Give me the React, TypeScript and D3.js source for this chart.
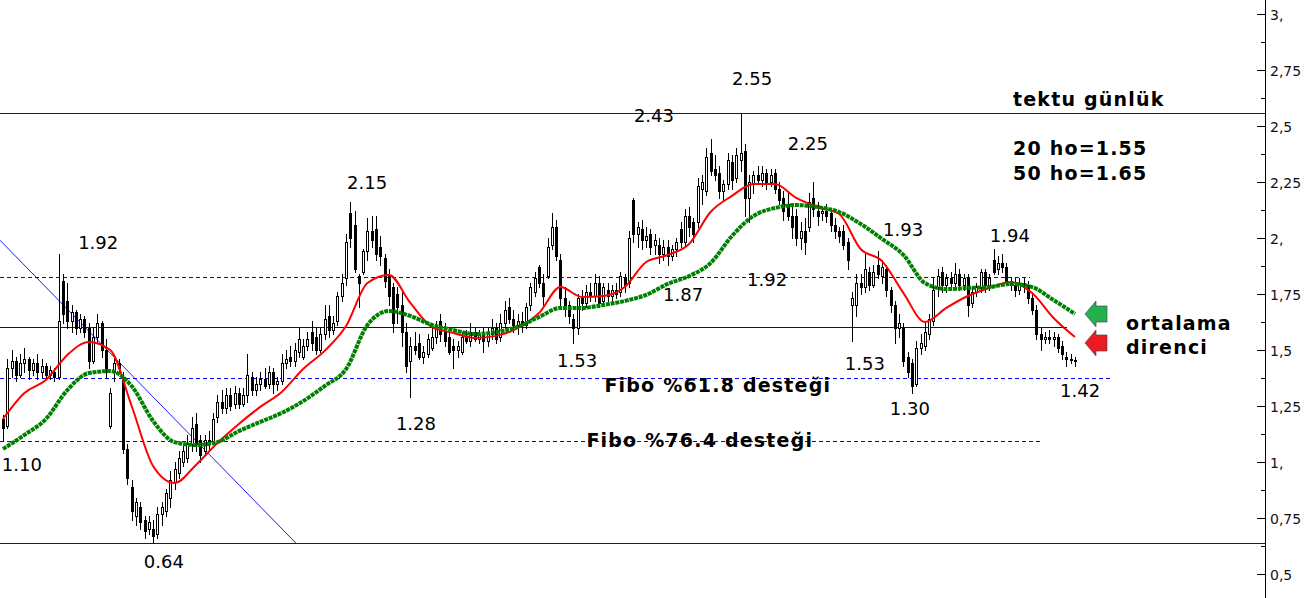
import React from 'react';
import * as d3 from 'd3';

const W = 1314;
const H = 598;

// OHLC per trading day (251 bars)
const opens = [
  1.19,1.16,1.42,1.45,1.39,1.44,1.46,1.41,1.44,1.40,
  1.43,1.39,1.40,1.38,1.81,1.72,1.63,1.67,1.60,1.64,
  1.60,1.45,1.56,1.62,1.50,1.16,1.40,1.44,1.38,1.06,
  0.89,0.76,0.80,0.74,0.70,0.70,0.68,0.77,0.78,0.84,
  0.91,0.95,1.00,1.02,1.08,1.17,1.10,1.05,1.10,1.09,
  1.20,1.27,1.24,1.30,1.26,1.31,1.26,1.30,1.38,1.32,
  1.35,1.37,1.35,1.40,1.35,1.36,1.44,1.47,1.45,1.49,
  1.47,1.52,1.58,1.56,1.50,1.57,1.65,1.59,1.63,1.74,
  1.82,2.11,2.06,1.83,1.85,1.94,2.03,2.04,1.96,1.91,
  1.83,1.78,1.75,1.70,1.58,1.45,1.52,1.53,1.47,1.48,
  1.51,1.56,1.63,1.58,1.56,1.52,1.50,1.49,1.56,1.54,
  1.58,1.55,1.57,1.54,1.57,1.60,1.56,1.62,1.69,1.64,
  1.61,1.63,1.61,1.70,1.76,1.87,1.80,1.83,1.97,2.05,
  1.90,1.73,1.70,1.64,1.60,1.73,1.71,1.76,1.74,1.80,
  1.72,1.77,1.74,1.77,1.76,1.82,1.80,2.17,2.02,2.04,
  1.99,2.02,1.97,1.97,1.93,1.96,1.92,1.95,2.04,1.98,
  2.10,2.07,2.07,2.22,2.21,2.38,2.31,2.29,2.21,2.24,
  2.34,2.27,2.35,2.39,2.18,2.24,2.28,2.26,2.29,2.25,
  2.29,2.22,2.18,2.15,2.10,2.10,2.00,2.03,2.05,2.18,
  2.12,2.11,2.12,2.11,2.06,2.03,2.03,1.98,1.70,1.70,
  1.80,1.78,1.85,1.79,1.88,1.83,1.86,1.77,1.70,1.60,
  1.60,1.47,1.44,1.35,1.51,1.52,1.57,1.63,1.78,1.85,
  1.79,1.82,1.80,1.84,1.79,1.82,1.71,1.76,1.78,1.85,
  1.79,1.90,1.86,1.89,1.87,1.81,1.79,1.77,1.80,1.79,
  1.73,1.68,1.57,1.55,1.56,1.55,1.56,1.52,1.47,1.46,
  1.455,
];
const highs = [
  1.21,1.46,1.50,1.47,1.48,1.51,1.47,1.46,1.48,1.46,
  1.44,1.43,1.42,1.93,1.84,1.80,1.70,1.68,1.66,1.65,
  1.62,1.60,1.66,1.63,1.55,1.33,1.47,1.46,1.40,1.08,
  0.92,0.84,0.82,0.76,0.76,0.74,0.80,0.82,0.88,0.96,
  1.00,1.05,1.08,1.12,1.20,1.22,1.12,1.12,1.14,1.22,
  1.30,1.32,1.33,1.33,1.34,1.33,1.33,1.48,1.40,1.38,
  1.40,1.42,1.43,1.42,1.38,1.48,1.50,1.52,1.53,1.60,
  1.55,1.58,1.63,1.60,1.60,1.70,1.70,1.65,1.76,1.84,
  2.02,2.16,2.12,1.84,1.95,2.09,2.10,2.10,2.01,1.93,
  1.86,1.80,1.78,1.76,1.62,1.56,1.58,1.57,1.52,1.57,
  1.60,1.63,1.66,1.62,1.59,1.55,1.54,1.58,1.59,1.62,
  1.60,1.59,1.60,1.60,1.64,1.62,1.66,1.72,1.73,1.68,
  1.66,1.67,1.71,1.80,1.85,1.88,1.84,2.00,2.11,2.08,
  1.93,1.78,1.72,1.66,1.75,1.77,1.79,1.80,1.84,1.83,
  1.80,1.80,1.79,1.80,1.85,1.84,2.03,2.18,2.07,2.08,
  2.05,2.04,2.02,2.00,1.99,1.99,1.97,2.00,2.07,2.13,
  2.14,2.09,2.27,2.28,2.40,2.44,2.37,2.32,2.26,2.38,
  2.37,2.40,2.56,2.42,2.28,2.30,2.32,2.32,2.31,2.31,
  2.31,2.25,2.21,2.20,2.14,2.13,2.07,2.09,2.20,2.25,
  2.16,2.14,2.15,2.13,2.09,2.05,2.06,2.00,1.76,1.84,
  1.84,1.93,1.87,1.88,1.94,1.90,1.88,1.78,1.72,1.66,
  1.62,1.49,1.46,1.54,1.57,1.62,1.66,1.82,1.86,1.87,
  1.84,1.85,1.89,1.86,1.84,1.84,1.78,1.80,1.86,1.86,
  1.84,1.95,1.92,1.93,1.89,1.82,1.82,1.82,1.82,1.81,
  1.75,1.70,1.60,1.58,1.59,1.58,1.57,1.54,1.49,1.48,
  1.47,
];
const lows = [
  1.10,1.15,1.38,1.36,1.38,1.40,1.37,1.39,1.37,1.38,
  1.37,1.37,1.36,1.37,1.62,1.60,1.58,1.57,1.58,1.56,
  1.42,1.44,1.53,1.47,1.38,1.15,1.36,1.40,1.04,0.90,
  0.74,0.72,0.70,0.66,0.68,0.64,0.66,0.72,0.76,0.80,
  0.88,0.93,0.98,1.00,1.05,1.05,1.00,1.03,1.06,1.08,
  1.18,1.22,1.22,1.23,1.24,1.24,1.25,1.27,1.30,1.30,
  1.32,1.33,1.33,1.31,1.32,1.35,1.42,1.43,1.43,1.47,
  1.46,1.50,1.50,1.48,1.49,1.55,1.56,1.57,1.61,1.72,
  1.79,1.96,1.85,1.69,1.84,1.90,1.96,1.90,1.88,1.78,
  1.70,1.58,1.62,1.52,1.40,1.29,1.48,1.46,1.44,1.47,
  1.50,1.53,1.54,1.52,1.48,1.42,1.47,1.48,1.53,1.52,
  1.54,1.53,1.49,1.52,1.55,1.53,1.54,1.60,1.62,1.58,
  1.57,1.58,1.60,1.68,1.74,1.78,1.70,1.82,1.95,1.90,
  1.70,1.65,1.62,1.53,1.57,1.68,1.69,1.72,1.72,1.69,
  1.70,1.72,1.72,1.73,1.74,1.76,1.78,1.98,1.96,1.95,
  1.96,1.93,1.93,1.89,1.90,1.88,1.90,1.92,1.96,1.96,
  2.01,1.98,2.05,2.15,2.19,2.28,2.26,2.18,2.17,2.22,
  2.22,2.25,2.30,2.10,2.07,2.20,2.24,2.23,2.22,2.23,
  2.20,2.15,2.08,2.08,2.00,1.97,1.95,1.93,2.03,2.10,
  2.06,2.08,2.07,2.03,2.00,1.98,1.95,1.86,1.54,1.65,
  1.75,1.76,1.77,1.78,1.82,1.80,1.74,1.67,1.53,1.56,
  1.43,1.38,1.31,1.34,1.48,1.50,1.55,1.61,1.74,1.76,
  1.76,1.77,1.78,1.77,1.77,1.65,1.69,1.74,1.76,1.76,
  1.77,1.84,1.84,1.85,1.79,1.77,1.74,1.75,1.76,1.71,
  1.66,1.55,1.50,1.53,1.53,1.52,1.49,1.46,1.43,1.44,
  1.43,
];
const closes = [
  1.15,1.42,1.45,1.39,1.44,1.46,1.41,1.44,1.40,1.43,
  1.39,1.41,1.38,1.63,1.66,1.63,1.67,1.60,1.64,1.58,
  1.45,1.56,1.62,1.50,1.42,1.31,1.44,1.42,1.06,0.93,
  0.78,0.82,0.73,0.69,0.73,0.67,0.77,0.80,0.86,0.92,
  0.97,1.02,1.05,1.08,1.15,1.08,1.03,1.10,1.09,1.19,
  1.27,1.24,1.30,1.25,1.31,1.26,1.30,1.39,1.32,1.35,
  1.37,1.34,1.40,1.35,1.36,1.44,1.46,1.45,1.50,1.55,
  1.52,1.55,1.53,1.50,1.57,1.64,1.59,1.62,1.74,1.80,
  1.98,2.00,1.86,1.80,1.94,2.03,1.99,1.93,1.92,1.81,
  1.74,1.62,1.69,1.58,1.43,1.52,1.50,1.47,1.49,1.55,
  1.56,1.60,1.57,1.54,1.49,1.50,1.52,1.56,1.54,1.58,
  1.55,1.57,1.54,1.57,1.60,1.55,1.62,1.68,1.64,1.61,
  1.63,1.61,1.69,1.78,1.82,1.80,1.74,1.96,2.05,1.92,
  1.73,1.70,1.65,1.60,1.73,1.71,1.76,1.74,1.80,1.71,
  1.78,1.74,1.77,1.75,1.83,1.79,2.00,2.02,2.05,1.99,
  2.01,1.96,1.99,1.93,1.96,1.92,1.95,1.98,1.98,2.10,
  2.05,2.02,2.23,2.25,2.36,2.30,2.28,2.21,2.24,2.35,
  2.26,2.37,2.38,2.18,2.25,2.28,2.26,2.29,2.25,2.28,
  2.22,2.17,2.12,2.10,2.05,2.00,2.03,1.98,2.16,2.13,
  2.10,2.12,2.10,2.06,2.03,2.01,1.97,1.90,1.73,1.80,
  1.78,1.86,1.79,1.85,1.84,1.87,1.77,1.70,1.60,1.62,
  1.45,1.40,1.34,1.51,1.53,1.58,1.64,1.77,1.83,1.79,
  1.82,1.80,1.84,1.79,1.82,1.70,1.76,1.78,1.85,1.79,
  1.82,1.85,1.89,1.87,1.81,1.79,1.77,1.80,1.78,1.73,
  1.68,1.57,1.55,1.56,1.55,1.56,1.51,1.48,1.46,1.455,
  1.45,
];

// moving averages read every 5th bar
const maEvery = 5;
const ma20 = [
  1.192,1.308,1.366,1.478,1.536,1.500,1.250,0.982,0.906,0.987,
  1.085,1.170,1.246,1.313,1.415,1.496,1.607,1.799,1.835,1.710,
  1.603,1.576,1.554,1.563,1.598,1.665,1.781,1.737,1.741,1.781,
  1.893,1.924,1.973,2.116,2.188,2.241,2.241,2.179,2.138,2.107,
  1.951,1.897,1.754,1.625,1.688,1.741,1.777,1.804,1.754,1.643,
  1.558,
];
const ma50 = [
  1.058,1.121,1.192,1.321,1.397,1.406,1.339,1.183,1.089,1.076,
  1.089,1.138,1.179,1.219,1.272,1.339,1.415,1.612,1.674,1.652,
  1.612,1.589,1.571,1.580,1.603,1.647,1.688,1.688,1.701,1.719,
  1.746,1.795,1.830,1.888,2.009,2.098,2.134,2.147,2.138,2.116,
  2.063,1.996,1.924,1.799,1.772,1.777,1.781,1.795,1.781,1.723,
  1.661,
];

// axis
const tickValues = [0.5, 0.75, 1, 1.25, 1.5, 1.75, 2, 2.25, 2.5, 2.75, 3];
const tickLabels = ['0,5', '0,75', '1,', '1,25', '1,5', '1,75', '2,', '2,25', '2,5', '2,75', '3,'];

// horizontal levels (price, last bar index)
const fullLevels = [2.558, 0.638];
const solidLevel = 1.601;
const solidLevelEnd = 248.1;
const dashedLevels = [1.828, 1.376, 1.092];
const dashedLevelEnds = [239.5, 258.2, 242.5];

// falling trend line (bar index, price)
const trendIdx = [-0.7, 68.3];
const trendPrice = [1.99, 0.638];

// price annotations
const peakTexts = ['1.92', '1.10', '0.64', '2.15', '1.28', '1.53', '2.43', '1.87', '2.55', '2.25', '1.92', '1.93', '1.53', '1.30', '1.94', '1.42'];
const peakIdx = [22.2, 4.4, 37.5, 84.9, 96.3, 133.9, 151.8, 158.6, 174.7, 187.7, 178.2, 209.9, 201, 211.5, 234.8, 251.2];
const peakPrice = [1.978, 0.987, 0.558, 2.246, 1.174, 1.451, 2.545, 1.746, 2.71, 2.42, 1.813, 2.04, 1.438, 1.237, 2.013, 1.317];

const fiboTexts = ['Fibo %61.8 desteği', 'Fibo %76.4 desteği'];
const fiboIdx = [166.7, 162.5];
const fiboPrice = [1.344, 1.098];

const legendTitle = 'tektu günlük';
const legendLines = ['20 ho=1.55', '50 ho=1.65'];
const noteLines = ['ortalama', 'direnci'];

export default function App() {
  const axisX = 1265;
  const x = d3.scaleLinear().domain([0, 250]).range([3, 1075]);
  const y = d3.scaleLinear().domain([0.5, 3]).range([574, 14]);
  const yy = (v: number) => Math.round(y(v)) + 0.5;

  const maLine = d3
    .line<number>()
    .x((_, i) => x(i * maEvery))
    .y((d) => y(d))
    .curve(d3.curveMonotoneX);

  const minor = tickValues.slice(0, -1).map((v) => v + 0.125);
  const numFont = "'DejaVu Sans', Verdana, sans-serif";

  const arrow = (tipX: number, cy: number, fill: string) => {
    const pts = [
      [tipX, cy],
      [tipX + 11, cy - 13],
      [tipX + 11, cy - 8],
      [tipX + 22, cy - 8],
      [tipX + 22, cy + 8],
      [tipX + 11, cy + 8],
      [tipX + 11, cy + 13],
    ];
    return <polygon points={pts.map((p) => p.join(',')).join(' ')} fill={fill} stroke="#3a3a3a" strokeWidth={0.6} />;
  };

  return (
    <svg width={W} height={H} style={{ position: 'absolute', left: 0, top: 0, background: '#fff' }}>
      <rect x={0} y={0} width={W} height={H} fill="#fff" />

      {/* levels */}
      <g shapeRendering="crispEdges">
        {fullLevels.map((p, i) => (
          <line key={'f' + i} x1={0} x2={axisX} y1={yy(p)} y2={yy(p)} stroke="#0000ff" strokeWidth={1} />
        ))}
        <line x1={0} x2={x(solidLevelEnd)} y1={yy(solidLevel)} y2={yy(solidLevel)} stroke="#0000cc" strokeWidth={1} />
        {dashedLevels.map((p, i) => (
          <line key={'d' + i} x1={0} x2={x(dashedLevelEnds[i])} y1={yy(p)} y2={yy(p)} stroke="#0000ff" strokeWidth={1} strokeDasharray="4,3" />
        ))}
      </g>
      <line
        x1={x(trendIdx[0])}
        y1={y(trendPrice[0])}
        x2={x(trendIdx[1])}
        y2={y(trendPrice[1])}
        stroke="#0000ff"
        strokeWidth={0.9}
      />

      {/* candles */}
      <g shapeRendering="crispEdges">
        {closes.map((c, i) => {
          const o = opens[i];
          const hi = Math.max(highs[i], o, c);
          const lo = Math.min(lows[i], o, c);
          const cx = Math.round(x(i));
          const top = Math.round(y(Math.max(o, c)));
          const bot = Math.round(y(Math.min(o, c)));
          const up = c >= o;
          return (
            <g key={i}>
              <line x1={cx + 0.5} x2={cx + 0.5} y1={Math.round(y(hi))} y2={Math.round(y(lo)) + 1} stroke="#000" strokeWidth={1} />
              {up ? (
                <rect x={cx - 0.5} y={top + 0.5} width={2} height={Math.max(bot - top, 1)} fill="#fff" stroke="#000" strokeWidth={1} />
              ) : (
                <rect x={cx - 1} y={top} width={3} height={Math.max(bot - top + 1, 2)} fill="#000" />
              )}
            </g>
          );
        })}
      </g>

      {/* moving averages */}
      <path d={maLine(ma20) || ''} fill="none" stroke="#ff0000" strokeWidth={2} />
      <path d={maLine(ma50) || ''} fill="none" stroke="#008000" strokeWidth={4} strokeDasharray="4,0.8" />

      {/* axis */}
      <g shapeRendering="crispEdges">
        <line x1={axisX + 0.5} x2={axisX + 0.5} y1={0} y2={H} stroke="#000" strokeWidth={1} />
        {tickValues.map((v, i) => (
          <line key={'t' + i} x1={axisX - 8} x2={axisX} y1={yy(v)} y2={yy(v)} stroke="#000" strokeWidth={1} />
        ))}
        {minor.map((v, i) => (
          <line key={'m' + i} x1={axisX - 4} x2={axisX} y1={yy(v)} y2={yy(v)} stroke="#000" strokeWidth={1} />
        ))}
      </g>
      {tickValues.map((v, i) => (
        <text key={'tl' + i} x={axisX + 5} y={y(v) + 2} dominantBaseline="middle" fontFamily={numFont} fontSize={14} fill="#111">
          {tickLabels[i]}
        </text>
      ))}

      {/* price annotations */}
      {peakTexts.map((t, i) => (
        <text
          key={'p' + i}
          x={x(peakIdx[i])}
          y={y(peakPrice[i])}
          textAnchor="middle"
          dominantBaseline="central"
          fontFamily={numFont}
          fontSize={18}
          fill="#000"
        >
          {t}
        </text>
      ))}
      {fiboTexts.map((t, i) => (
        <text
          key={'fb' + i}
          x={x(fiboIdx[i])}
          y={y(fiboPrice[i])}
          textAnchor="middle"
          dominantBaseline="central"
          fontFamily={numFont}
          fontWeight="bold"
          fontSize={19}
          letterSpacing={1.2}
          fill="#000"
        >
          {t}
        </text>
      ))}

      {/* legend */}
      <g fontFamily={numFont} fontWeight="bold" fontSize={19} letterSpacing={1.2} fill="#000">
        <text x={1013} y={106}>{legendTitle}</text>
        <text x={1013} y={155}>{legendLines[0]}</text>
        <text x={1013} y={180}>{legendLines[1]}</text>
        <text x={1126} y={330}>{noteLines[0]}</text>
        <text x={1126} y={354}>{noteLines[1]}</text>
      </g>

      {arrow(1085, 314, '#22b14c')}
      {arrow(1085, 343, '#ed1c24')}
    </svg>
  );
}
